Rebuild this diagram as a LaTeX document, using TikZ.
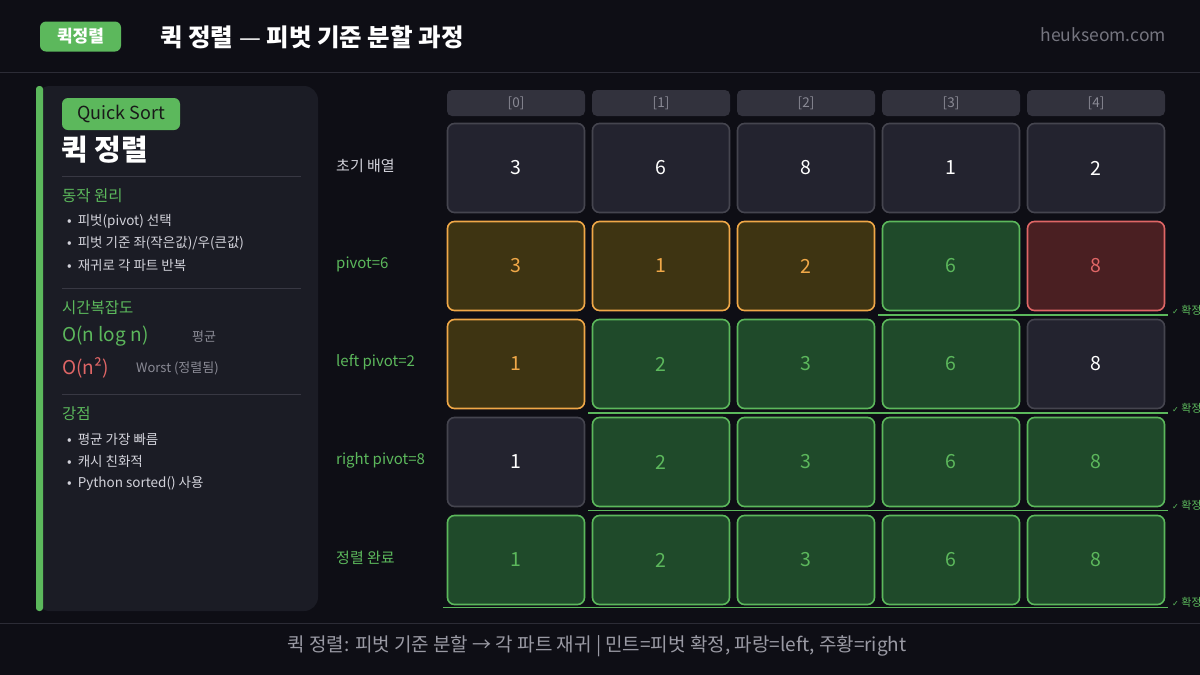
\documentclass[tikz,border=0pt]{standalone}
\usepackage{fontspec}
\setmainfont{Noto Sans CJK KR}
\newfontfamily\symfont{DejaVu Sans}
\definecolor{bg}{HTML}{0E0E15}
\definecolor{rule}{HTML}{2C2C36}
\definecolor{panel}{HTML}{1B1C25}
\definecolor{gr}{HTML}{5CB85C}
\definecolor{grfill}{HTML}{1F4A2A}
\definecolor{org}{HTML}{F0A848}
\definecolor{orgfill}{HTML}{3E3412}
\definecolor{rd}{HTML}{E06666}
\definecolor{rdfill}{HTML}{4A1F22}
\definecolor{dfill}{HTML}{23232F}
\definecolor{dline}{HTML}{45454F}
\definecolor{idxfill}{HTML}{32323D}
\definecolor{muted}{HTML}{8A8A95}
\definecolor{foottxt}{HTML}{9A9AA4}
\definecolor{light}{HTML}{D2D2DA}
\definecolor{sep}{HTML}{383843}
\tikzset{
  cellbase/.style={rounded corners=7pt, minimum width=137pt, minimum height=89pt, line width=1.6pt, font=\fontsize{19.5}{22}\selectfont, inner sep=0pt},
  cdef/.style={cellbase, fill=dfill, draw=dline, text=white},
  corg/.style={cellbase, fill=orgfill, draw=org, text=org},
  cgr/.style={cellbase, fill=grfill, draw=gr, text=gr},
  crd/.style={cellbase, fill=rdfill, draw=rd, text=rd},
  idxbox/.style={rounded corners=5pt, minimum width=138pt, minimum height=26pt, fill=idxfill, text=muted, font=\fontsize{13.5}{15}\selectfont, inner sep=0pt},
  rowlab/.style={anchor=west, font=\fontsize{15}{17}\selectfont, inner sep=0pt},
  confline/.style={draw=gr, line width=1.8pt},
  conftxt/.style={anchor=west, text=gr, font=\fontsize{11}{12}\selectfont, inner sep=0pt},
  sechead/.style={anchor=west, text=gr, font=\fontsize{15.5}{18}\selectfont, inner sep=0pt},
  bullet/.style={anchor=west, text=light, font=\fontsize{13.5}{15}\selectfont, inner sep=0pt},
  panelsep/.style={draw=sep, line width=0.8pt}
}
\begin{document}
\begin{tikzpicture}[x=1pt,y=-1pt]
\useasboundingbox (0,0) rectangle (1200,675);
\clip (0,0) rectangle (1200,675);
\fill[bg] (0,0) rectangle (1200,675);
% header
\draw[rule, line width=1pt] (0,72) -- (1200,72);
\node[fill=gr, rounded corners=6pt, minimum width=81pt, minimum height=30pt, inner sep=0pt, text=white, font=\bfseries\fontsize{17}{20}\selectfont] (badge) at (80.5,36.5) {퀵정렬};
\node[anchor=west, inner sep=0pt, text=white, font=\bfseries\fontsize{24.5}{28}\selectfont] (title) at (160,37) {퀵 정렬 {\mdseries —} 피벗 기준 분할 과정};
\node[anchor=east, inner sep=0pt, text=muted!85!black, font=\fontsize{17.5}{20}\selectfont] (site) at (1166,35) {heukseom.com};
% footer
\draw[rule, line width=1pt] (0,623) -- (1200,623);
\node[inner sep=0pt, text=foottxt, font=\fontsize{19}{22}\selectfont] (foot) at (597,646) {퀵 정렬: 피벗 기준 분할 → 각 파트 재귀 | 민트=피벗 확정, 파랑=left, 주황=right};
% left panel
\fill[panel, rounded corners=14pt] (36,86) rectangle (318,611);
\fill[gr, rounded corners=3pt] (36,86) rectangle (43,611);
\node[fill=gr, rounded corners=6pt, minimum width=118pt, minimum height=32pt, inner sep=0pt, text=black!90, font=\fontsize{18}{21}\selectfont] (qs) at (121,114) {Quick Sort};
\node[anchor=west, inner sep=0pt, text=white, font=\bfseries\fontsize{29}{33}\selectfont] (kt) at (61,150) {퀵 정렬};
\draw[panelsep] (62,176) -- (301,176);
\node[sechead] (h1) at (62,196) {동작 원리};
\node[bullet] (b11) at (67,221) {•\hspace{6pt}피벗(pivot) 선택};
\node[bullet] (b12) at (67,243) {•\hspace{6pt}피벗 기준 좌(작은값)/우(큰값)};
\node[bullet] (b13) at (67,265) {•\hspace{6pt}재귀로 각 파트 반복};
\draw[panelsep] (62,288) -- (301,288);
\node[sechead] (h2) at (62,308) {시간복잡도};
\node[anchor=west, inner sep=0pt, text=gr, font=\fontsize{19}{22}\selectfont] (o1) at (62,336) {O(n log n)};
\node[anchor=west, inner sep=0pt, text=muted, font=\fontsize{13}{15}\selectfont] (o1t) at (192,337) {평균};
\node[anchor=west, inner sep=0pt, text=rd, font=\fontsize{19}{22}\selectfont] (o2) at (62,368) {O(n²)};
\node[anchor=west, inner sep=0pt, text=muted, font=\fontsize{13}{15}\selectfont] (o2t) at (136,368) {Worst (정렬됨)};
\draw[panelsep] (62,394) -- (301,394);
\node[sechead] (h3) at (62,414) {강점};
\node[bullet] (b31) at (67,439) {•\hspace{6pt}평균 가장 빠름};
\node[bullet] (b32) at (67,461) {•\hspace{6pt}캐시 친화적};
\node[bullet] (b33) at (67,483) {•\hspace{6pt}Python sorted() 사용};
% index header
\foreach \c/\x in {0/516,1/661,2/806,3/951,4/1096}{
  \node[idxbox] (idx\c) at (\x,103) {[\c]};
}
% row labels
\node[rowlab, text=light] (r0) at (336,166) {초기 배열};
\node[rowlab, text=gr] (r1) at (336,264) {pivot=6};
\node[rowlab, text=gr] (r2) at (336,362) {left pivot=2};
\node[rowlab, text=gr] (r3) at (336,460) {right pivot=8};
\node[rowlab, text=gr] (r4) at (336,558) {정렬 완료};
% cells
\foreach \r/\y/\la/\sa/\lb/\sb/\lc/\sc/\ld/\sd/\le/\se in {
  0/168/3/cdef/6/cdef/8/cdef/1/cdef/2/cdef,
  1/266/3/corg/1/corg/2/corg/6/cgr/8/crd,
  2/364/1/corg/2/cgr/3/cgr/6/cgr/8/cdef,
  3/462/1/cdef/2/cgr/3/cgr/6/cgr/8/cgr,
  4/560/1/cgr/2/cgr/3/cgr/6/cgr/8/cgr}{
  \node[\sa] (c\r0) at (516,\y) {\la};
  \node[\sb] (c\r1) at (661,\y) {\lb};
  \node[\sc] (c\r2) at (806,\y) {\lc};
  \node[\sd] (c\r3) at (951,\y) {\ld};
  \node[\se] (c\r4) at (1096,\y) {\le};
}
% confirmation lines
\draw[confline] (878,315) -- (1168,315);
\draw[confline] (588,413) -- (1168,413);
\draw[confline] (588,510.5) -- (1168,510.5);
\draw[confline] (443,607.5) -- (1168,607.5);
\foreach \y/\n in {310/k1,408/k2,505.5/k3,602.5/k4}{
  \node[conftxt] (\n) at (1172,\y) {{\symfont\fontsize{8}{10}\selectfont ✓} 확정};
}
\end{tikzpicture}
\end{document}
